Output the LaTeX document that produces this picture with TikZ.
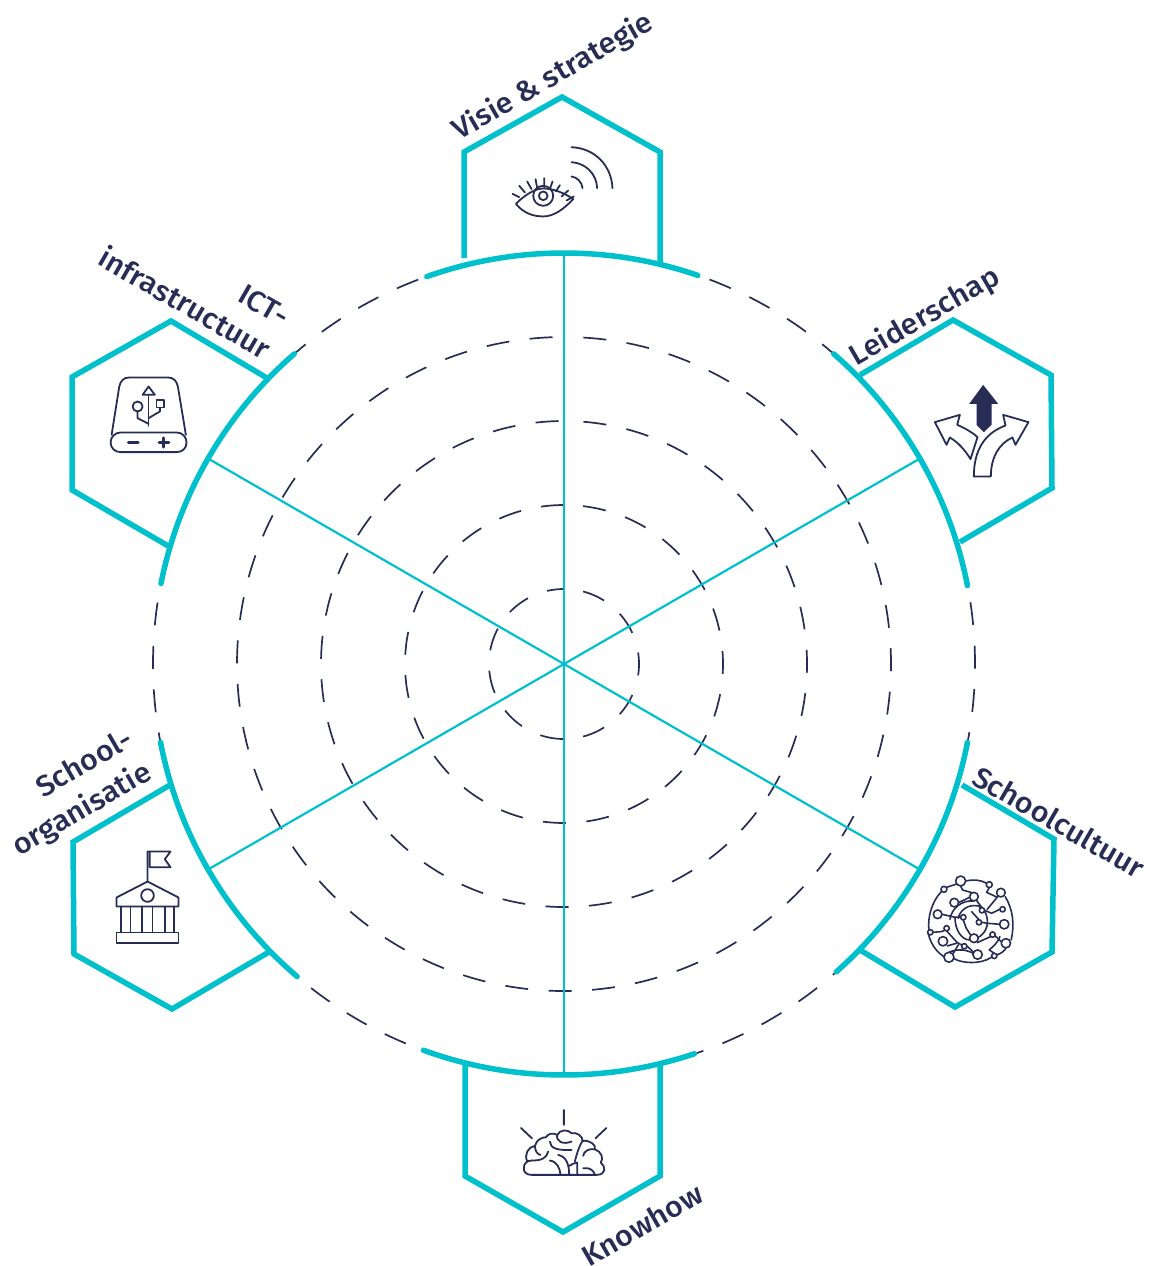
\documentclass[tikz,border=0pt]{standalone}
\usepackage{fontspec}
\usetikzlibrary{calc}
\setmainfont{Fira Sans}[UprightFont={* Medium},FakeStretch=1.05]
\definecolor{teal}{HTML}{00C1CB}
\definecolor{navy}{HTML}{282D55}
\tikzset{
  ring/.style={navy,line width=1.7pt,dash pattern=on 23pt off 20.5pt},
  spoke/.style={teal,line width=2.2pt},
  rim/.style={teal,line width=5.5pt,line cap=round},
  hexa/.style={teal,line width=5.5pt,line join=miter},
  icon/.style={navy,line width=1.8pt,line join=round,line cap=round},
  label/.style={navy,font=\fontsize{29}{38}\selectfont,inner sep=0pt,align=right}
}
\begin{document}
\begin{tikzpicture}[x=1pt,y=-1pt]
\useasboundingbox (0,0) rectangle (1155,1266);
\coordinate (c) at (564,664);
% hexagons
\draw[hexa] (464,258) -- (464,152) -- (562,97) -- (660,152) -- (660,262);
\draw[hexa] (860,375) -- (953,320) -- (1051,375) -- (1052,488) -- (960,542);
\draw[hexa] (962,785) -- (1054,839) -- (1052,952) -- (955,1007) -- (860,950);
\draw[hexa] (465,1062) -- (465,1176) -- (563,1232) -- (660,1176) -- (660,1064);
\draw[hexa] (170,785) -- (73,842) -- (74,954) -- (172,1009) -- (269,952);
\draw[hexa] (267,378) -- (171,321) -- (72,377) -- (72,490) -- (170,547);
% rings
\foreach \r/\ph in {75/6,159/0,243/38,327/32,411/25}
  \draw[ring,dash phase=\ph] ($(c)+(-90:\r)$) arc[start angle=-90,end angle=-450,radius=\r];
% spokes
\foreach \a in {90,30,-30,-90,-150,150}{
  \coordinate (e\a) at ($(c)+(-\a:411)$);
  \draw[spoke] (c) -- (e\a);
}
% rim arcs
\foreach \a/\b in {71/109.5,11/49,-48.5/-11,250/288.5,191/229.5,131/168.7}
  \draw[rim] ($(c)+(-\a:411)$) arc[start angle=-\a,end angle=-\b,radius=411];
% labels
\node[label,rotate=30] (l1) at (553,77) {Visie \& strategie};
\node[label,rotate=30] (l2) at (925,317) {Leiderschap};
\node[label,rotate=-30] (l3) at (1059,822) {Schoolcultuur};
\node[label,rotate=30] (l4) at (642,1225) {Knowhow};
\node[label,rotate=30] (l5) at (73,794) {School-\\organisatie};
\node[label,rotate=-30] (l6) at (194,287) {ICT-\\infrastructuur};
% eye
\begin{scope}[shift={(420,0)},x=0.333pt,y=-0.333pt,icon]
\draw (288,612) .. controls (320,580) and (350,566) .. (370,566) .. controls (400,566) and (435,580) .. (460,598) .. controls (430,630) and (400,650) .. (370,650) .. controls (340,650) and (310,640) .. (288,612) -- cycle;
\draw (370,588) circle[radius=30];
\draw (370,588) circle[radius=13];
\draw (278,582)--(298,592) (298,558)--(315,578) (322,545)--(335,568) (347,538)--(352,565) (373,535)--(373,562) (398,545)--(390,568) (420,556)--(408,575) (445,572)--(425,590) (462,590)--(440,602);
\draw (455,442) .. controls (525,445) and (575,497) .. (578,565);
\draw (455,487) .. controls (498,490) and (530,522) .. (532,565);
\draw (455,530) .. controls (472,532) and (487,548) .. (488,565);
\end{scope}
% roads
\begin{scope}[shift={(820,250)},x=0.333pt,y=-0.333pt,icon]
\fill[navy] (490,405) -- (448,462) -- (470,462) -- (470,525) -- (492,547) -- (515,525) -- (515,462) -- (535,462) -- cycle;
\draw (462,680) .. controls (462,600) and (495,550) .. (557,527) -- (550,495) -- (626,517) -- (587,585) -- (578,563) .. controls (540,580) and (513,620) .. (513,680) -- cycle;
\draw (345,517) -- (420,495) -- (412,525) .. controls (435,535) and (458,548) .. (473,562) -- (452,628) .. controls (435,600) and (415,578) .. (390,563) -- (380,585) -- cycle;
\end{scope}
% network
\begin{scope}[shift={(900,860)},x=0.333pt,y=-0.333pt,icon,line width=1.6pt]
\draw (197,63) .. controls (220,58) and (245,60) .. (260,70);
\draw (140,82) -- (170,72);
\draw (124,95) .. controls (95,125) and (82,175) .. (87,210);
\draw (182,78) -- (188,90) -- (222,100);
\draw (268,83) -- (260,97) -- (292,112);
\draw (316,110) .. controls (340,150) and (344,195) .. (334,240);
\draw (254,151) -- (275,160) -- (300,148);
\draw (295,108) -- (262,148);
\draw (230,122) -- (246,143);
\draw (176,128) -- (209,112);
\draw (126,163) -- (165,172) -- (182,172);
\draw (150,178) .. controls (155,145) and (185,120) .. (222,123);
\draw (165,172) .. controls (165,210) and (185,240) .. (209,240);
\draw (175,175) .. controls (180,150) and (205,132) .. (235,138) .. controls (255,145) and (265,170) .. (262,195) .. controls (258,215) and (245,228) .. (235,232);
\draw (215,155) -- (237,179);
\draw (199,205) -- (190,180);
\draw (199,205) -- (212,225);
\draw (262,190) -- (299,193);
\draw (245,187) -- (262,190);
\draw (99,217) -- (125,215) -- (134,211);
\draw (140,213) -- (172,248) -- (185,255);
\draw (142,258) -- (170,250);
\draw (85,222) .. controls (95,260) and (115,280) .. (135,292);
\draw (162,296) .. controls (185,310) and (240,315) .. (275,292);
\draw (160,280) -- (175,255);
\draw (202,259) -- (219,275);
\draw (232,248) -- (272,230);
\draw (286,228) -- (304,245);
\draw (268,270) -- (283,280);
\draw (268,270) .. controls (285,255) and (295,245) .. (300,230);
\draw (147,277) .. controls (175,265) and (200,270) .. (220,280);
\draw (291,285) .. controls (305,280) and (315,272) .. (318,264);
\foreach \x/\y/\r in {182/63/15,268/74/9,132/88/9,303/98/13,222/110/13,163/128/13,308/148/8,246/151/8,113/163/13,190/172/8,237/187/8,313/193/14,140/205/8,91/217/8,222/235/13,278/224/8,129/244/14,318/250/14,193/259/8,233/284/14,147/292/15,283/288/8}
  \draw[fill=white] (\x,\y) circle[radius=\r];
\end{scope}
% brain
\begin{scope}[shift={(420,1040)},x=0.333pt,y=-0.333pt,icon]
\draw (432,210) -- (432,255) (303,264) -- (336,295) (560,264) -- (527,295);
\draw (335,405) .. controls (318,405) and (310,395) .. (312,383) .. controls (312,370) and (322,362) .. (335,362);
\draw (322,364) .. controls (312,345) and (325,320) .. (345,318) .. controls (350,300) and (365,292) .. (378,292) .. controls (385,280) and (400,278) .. (412,285) .. controls (420,268) and (445,268) .. (455,280) .. controls (470,275) and (490,290) .. (488,303) .. controls (510,300) and (530,315) .. (525,328) .. controls (545,335) and (552,355) .. (543,368) .. controls (558,380) and (560,405) .. (530,405) -- (335,405);
\draw (412,285) .. controls (408,305) and (430,315) .. (455,305);
\draw (390,305) .. controls (392,325) and (410,332) .. (455,330);
\draw (345,318) .. controls (345,335) and (355,345) .. (362,345);
\draw (385,335) .. controls (380,355) and (365,362) .. (335,362);
\draw (390,362) .. controls (412,365) and (420,385) .. (422,405);
\draw (415,345) .. controls (440,350) and (448,375) .. (448,405);
\draw (488,303) .. controls (475,325) and (470,345) .. (465,365);
\draw (448,378) .. controls (455,372) and (465,370) .. (472,368) -- (472,405);
\draw (525,328) .. controls (505,325) and (492,335) .. (490,348);
\draw (490,385) .. controls (510,382) and (522,392) .. (525,405);
\end{scope}
% usb drive
\begin{scope}[shift={(60,240)},x=0.333pt,y=-0.333pt,icon]
\draw (155,585) -- (178,440) .. controls (182,422) and (192,413) .. (207,413) -- (325,413) .. controls (340,413) and (350,422) .. (354,440) -- (378,585);
\draw (182,578) -- (350,578) .. controls (368,578) and (380,592) .. (380,608) .. controls (380,625) and (368,637) .. (350,637) -- (182,637) .. controls (165,637) and (152,625) .. (152,608) .. controls (152,592) and (165,578) .. (182,578) -- cycle;
\draw[line width=2.6pt] (205,608) -- (235,608);
\draw[line width=3pt] (298,608) -- (327,608) (312,594) -- (312,622);
\draw (266,465) -- (266,558);
\draw (266,440) -- (248,465) -- (285,465) -- cycle;
\draw (233,500) circle[radius=15];
\draw (233,515) -- (233,535) -- (266,552);
\draw (290,480) rectangle (312,503);
\draw (300,503) -- (300,515) -- (266,535);
\end{scope}
% building
\begin{scope}[shift={(0,730)},x=0.333pt,y=-0.333pt,icon]
\draw (443,455) -- (443,365) -- (512,365) -- (495,388) -- (512,412) -- (450,412) -- (450,365);
\draw (350,530) -- (350,503) -- (443,455) -- (536,503) -- (536,530) -- cycle;
\draw (443,497) circle[radius=19];
\draw (363,530) -- (363,608) (392,530) -- (392,608) (427,530) -- (427,608) (458,530) -- (458,608) (495,530) -- (495,608) (522,530) -- (522,608);
\draw (350,608) rectangle (536,640);
\end{scope}
\end{tikzpicture}
\end{document}
